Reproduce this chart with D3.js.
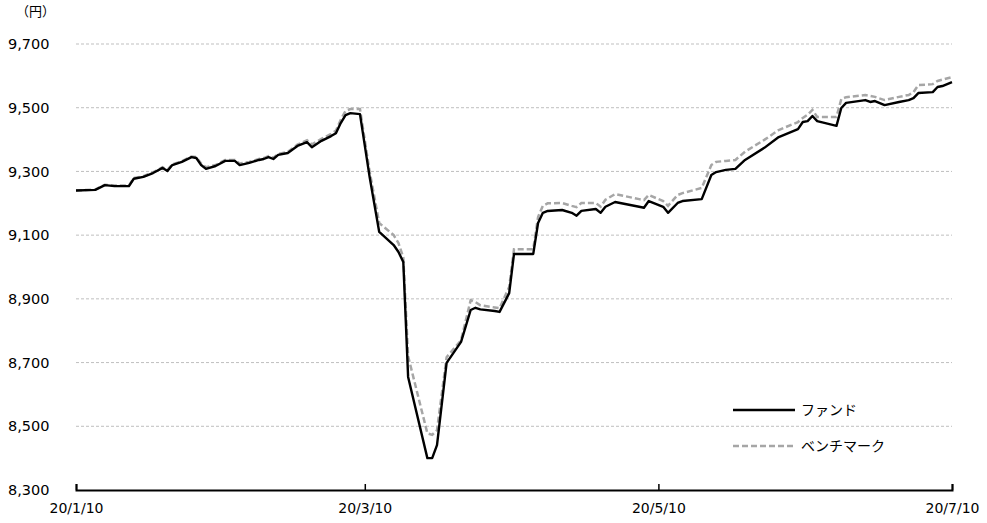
<!DOCTYPE html>
<html lang="ja">
<head>
<meta charset="UTF-8">
<title>ファンドとベンチマーク</title>
<script src="https://cdn.jsdelivr.net/npm/d3@7"></script>
<style>
  body { margin: 0; background: #fff; }
  svg { display: block; font-family: "DejaVu Sans", Verdana, sans-serif; }
  .jp { font-family: "Noto Sans CJK JP", sans-serif; }
</style>
</head>
<body>
<div id="chart"></div>
<script>
// dates (2020) and values
const dates = [
  "2020-01-10","2020-01-14","2020-01-16","2020-01-18","2020-01-21","2020-01-22","2020-01-24","2020-01-26",
  "2020-01-28","2020-01-29","2020-01-30","2020-02-01","2020-02-03","2020-02-04","2020-02-05","2020-02-06",
  "2020-02-08","2020-02-10","2020-02-12","2020-02-13","2020-02-15","2020-02-17","2020-02-18","2020-02-19",
  "2020-02-20","2020-02-21","2020-02-23","2020-02-25","2020-02-27","2020-02-28","2020-03-01","2020-03-03",
  "2020-03-04","2020-03-05","2020-03-06","2020-03-07","2020-03-09","2020-03-11","2020-03-13","2020-03-16",
  "2020-03-17","2020-03-18","2020-03-19","2020-03-23","2020-03-24","2020-03-25","2020-03-27","2020-03-30",
  "2020-04-01","2020-04-02","2020-04-03","2020-04-06","2020-04-07","2020-04-09","2020-04-10","2020-04-14",
  "2020-04-15","2020-04-16","2020-04-17","2020-04-20","2020-04-22","2020-04-23","2020-04-24","2020-04-27",
  "2020-04-28","2020-04-29","2020-05-01","2020-05-06","2020-05-07","2020-05-08","2020-05-11","2020-05-12",
  "2020-05-14","2020-05-15","2020-05-19","2020-05-21","2020-05-22","2020-05-24","2020-05-26","2020-05-28",
  "2020-06-01","2020-06-04","2020-06-08","2020-06-09","2020-06-10","2020-06-11","2020-06-12","2020-06-16",
  "2020-06-17","2020-06-18","2020-06-22","2020-06-23","2020-06-24","2020-06-26","2020-06-29","2020-07-01",
  "2020-07-02","2020-07-03","2020-07-06","2020-07-07","2020-07-08","2020-07-10"
];
const fund = [
  9240,9242,9257,9254,9254,9277,9283,9295,
  9311,9301,9320,9330,9345,9342,9320,9308,
  9317,9333,9333,9320,9327,9336,9339,9345,
  9339,9352,9358,9380,9392,9376,9396,9411,
  9420,9452,9477,9483,9480,9283,9110,9069,
  9047,9016,8655,8400,8400,8441,8699,8765,
  8865,8872,8867,8862,8859,8918,9041,9041,
  9138,9170,9176,9179,9170,9161,9176,9182,
  9170,9189,9204,9189,9186,9207,9189,9170,
  9201,9207,9213,9289,9298,9305,9308,9336,
  9374,9408,9433,9455,9458,9474,9458,9443,
  9499,9515,9524,9518,9521,9508,9518,9524,
  9530,9546,9549,9565,9568,9580
];
const bench = [
  9240,9243,9258,9256,9256,9279,9285,9297,
  9313,9305,9322,9332,9347,9345,9325,9313,
  9320,9336,9336,9325,9330,9339,9342,9348,
  9343,9355,9361,9384,9398,9385,9402,9418,
  9428,9462,9490,9496,9496,9300,9138,9100,
  9075,9030,8720,8478,8473,8488,8717,8770,
  8896,8890,8880,8873,8871,8937,9056,9056,
  9157,9192,9200,9201,9192,9188,9201,9201,
  9189,9211,9229,9213,9210,9226,9207,9192,
  9226,9232,9248,9320,9330,9333,9336,9362,
  9399,9430,9455,9468,9478,9493,9471,9471,
  9527,9533,9540,9537,9534,9524,9534,9540,
  9549,9571,9574,9584,9588,9596
];
const yTicks = [8300, 8500, 8700, 8900, 9100, 9300, 9500, 9700];
const xTicks = ["2020-01-10", "2020-03-10", "2020-05-10", "2020-07-10"];
const seriesNames = ["ファンド", "ベンチマーク"];

const width = 987, height = 523;
const margin = { top: 44, right: 35, bottom: 33, left: 76 };
const parse = d3.timeParse("%Y-%m-%d");

const svg = d3.select("#chart").append("svg")
  .attr("width", width)
  .attr("height", height);

const x = d3.scaleTime()
  .domain([parse(xTicks[0]), parse(xTicks[xTicks.length - 1])])
  .range([margin.left, width - margin.right]);
const y = d3.scaleLinear()
  .domain([8300, 9700])
  .range([height - margin.bottom, margin.top]);

// grid lines
svg.append("g")
  .selectAll("line")
  .data(yTicks.slice(1))
  .join("line")
  .attr("x1", x.range()[0])
  .attr("x2", x.range()[1])
  .attr("y1", d => y(d))
  .attr("y2", d => y(d))
  .attr("stroke", "#bfbfbf")
  .attr("stroke-width", 1)
  .attr("stroke-dasharray", "3,2");

// y labels
svg.append("g")
  .selectAll("text")
  .data(yTicks)
  .join("text")
  .attr("x", 8)
  .attr("y", d => y(d))
  .attr("dy", "0.35em")
  .attr("font-size", 14.5)
  .attr("fill", "#000")
  .text(d => d3.format(",")(d));

svg.append("text")
  .attr("class", "jp")
  .attr("x", 16)
  .attr("y", 16)
  .attr("font-size", 13)
  .text("（円）");

// x axis
const xAxis = svg.append("g")
  .attr("transform", `translate(0,${y(8300)})`)
  .call(d3.axisBottom(x)
    .tickValues(xTicks.map(parse))
    .tickSize(-6)
    .tickFormat(d3.timeFormat("%y/%-m/%-d")));
xAxis.select(".domain").attr("stroke", "#000").attr("stroke-width", 2);
xAxis.selectAll(".tick line").attr("stroke", "#000").attr("stroke-width", 1.5);
xAxis.selectAll(".tick text")
  .attr("y", 13)
  .attr("font-family", "DejaVu Sans, Verdana, sans-serif")
  .attr("font-size", 14)
  .attr("fill", "#000");

// lines
const line = d3.line()
  .x((d, i) => x(parse(dates[i])))
  .y(d => y(d));

svg.append("path")
  .datum(bench)
  .attr("fill", "none")
  .attr("stroke", "#a6a6a6")
  .attr("stroke-width", 2.5)
  .attr("stroke-dasharray", "6,3")
  .attr("d", line);

svg.append("path")
  .datum(fund)
  .attr("fill", "none")
  .attr("stroke", "#000")
  .attr("stroke-width", 2.4)
  .attr("stroke-linejoin", "round")
  .attr("d", line);

// legend
const legend = svg.append("g").attr("transform", "translate(733,410)");
const legendStyles = [
  { stroke: "#000", dash: null, w: 2.5 },
  { stroke: "#a6a6a6", dash: "6,3", w: 2.5 }
];
seriesNames.forEach((name, i) => {
  const g = legend.append("g").attr("transform", `translate(0,${i * 36})`);
  g.append("line")
    .attr("x1", 0).attr("x2", 62)
    .attr("stroke", legendStyles[i].stroke)
    .attr("stroke-width", legendStyles[i].w)
    .attr("stroke-dasharray", legendStyles[i].dash);
  g.append("text")
    .attr("class", "jp")
    .attr("x", 68)
    .attr("dy", "0.35em")
    .attr("font-size", 14)
    .text(name);
});
</script>
</body>
</html>
